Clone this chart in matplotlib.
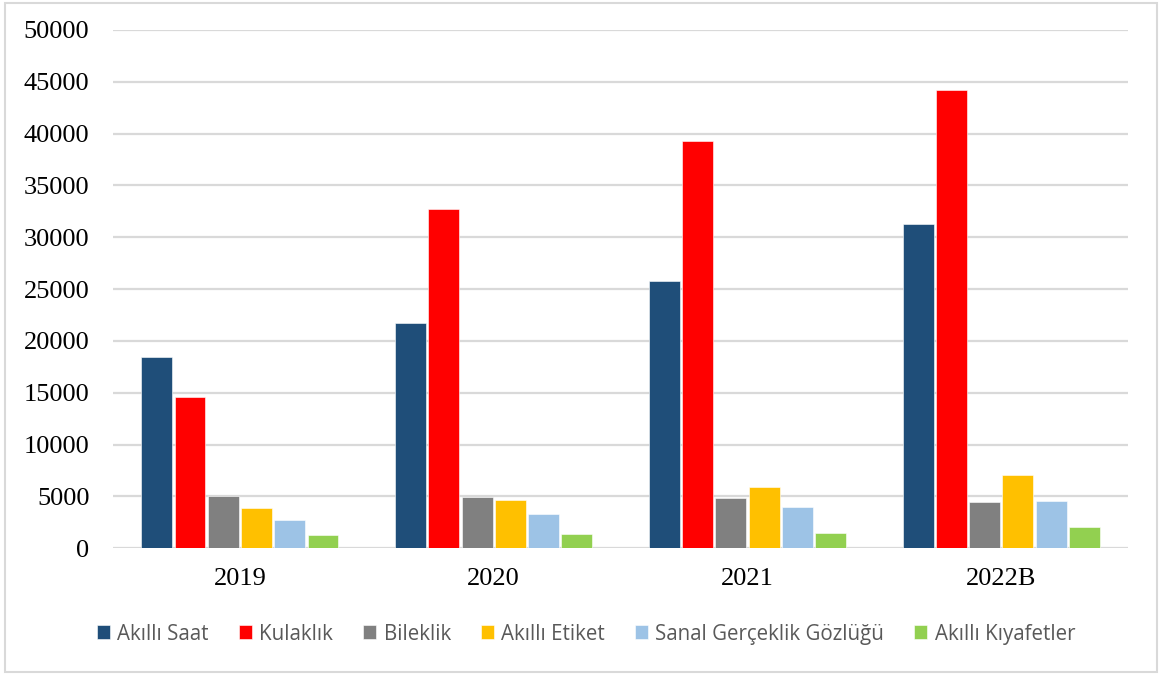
import numpy as np
import matplotlib.pyplot as plt
from matplotlib.patches import Rectangle

years = ['2019', '2020', '2021', '2022B']
series_names = ['Akıllı Saat', 'Kulaklık', 'Bileklik', 'Akıllı Etiket',
                'Sanal Gerçeklik Gözlüğü', 'Akıllı Kıyafetler']

akilli_saat = [18500, 21700, 25800, 31300]
kulaklik = [14600, 32700, 39250, 44200]
bileklik = [5050, 4950, 4900, 4450]
akilli_etiket = [3850, 4650, 5950, 7100]
sanal_gozluk = [2750, 3350, 4000, 4550]
akilli_kiyafet = [1300, 1350, 1450, 2100]

values = [akilli_saat, kulaklik, bileklik, akilli_etiket, sanal_gozluk, akilli_kiyafet]
colors = ['#1f4e79', '#ff0000', '#808080', '#ffc000', '#9dc3e6', '#92d050']

bar_step = 0.131
bar_width = 0.122

fig = plt.figure(figsize=(11.59, 6.75), dpi=100)
ax = fig.add_axes([0.0975, 0.1877, 0.8758, 0.7679])

x = np.arange(len(years))
for i, (name, vals) in enumerate(zip(series_names, values)):
    offset = (i - (len(series_names) - 1) / 2) * bar_step
    ax.bar(x + offset, vals, width=bar_width, color=colors[i], label=name,
           edgecolor='white', linewidth=0.4, zorder=3)

ax.set_xlim(-0.5, len(years) - 0.5)
ax.set_ylim(0, 50000)
ax.set_yticks(np.arange(0, 50001, 5000))
ax.set_xticks(x)
ax.set_xticklabels(years)
ax.grid(axis='y', color='#d9d9d9', linewidth=1.6, zorder=0)
for s in ax.spines.values():
    s.set_visible(False)
ax.tick_params(axis='both', length=0, labelsize=19)
ax.tick_params(axis='y', pad=17)
ax.tick_params(axis='x', pad=14)
for lab in ax.get_xticklabels() + ax.get_yticklabels():
    lab.set_fontfamily('Liberation Serif')
    lab.set_color('black')

fig.legend(loc='center', bbox_to_anchor=(0.5056, 0.0607), ncol=6, frameon=False,
           prop={'family': 'Open Sans', 'size': 14.8}, labelcolor='#595959',
           handlelength=0.65, handleheight=0.65, handletextpad=0.35,
           columnspacing=1.45)

# light gray frame around the whole chart
fig.patches.append(Rectangle((5 / 1159, 3 / 675), 1152 / 1159, 669 / 675,
                             transform=fig.transFigure, fill=False,
                             edgecolor='#d9d9d9', linewidth=1.5))

fig.savefig('out.png', dpi=100)
